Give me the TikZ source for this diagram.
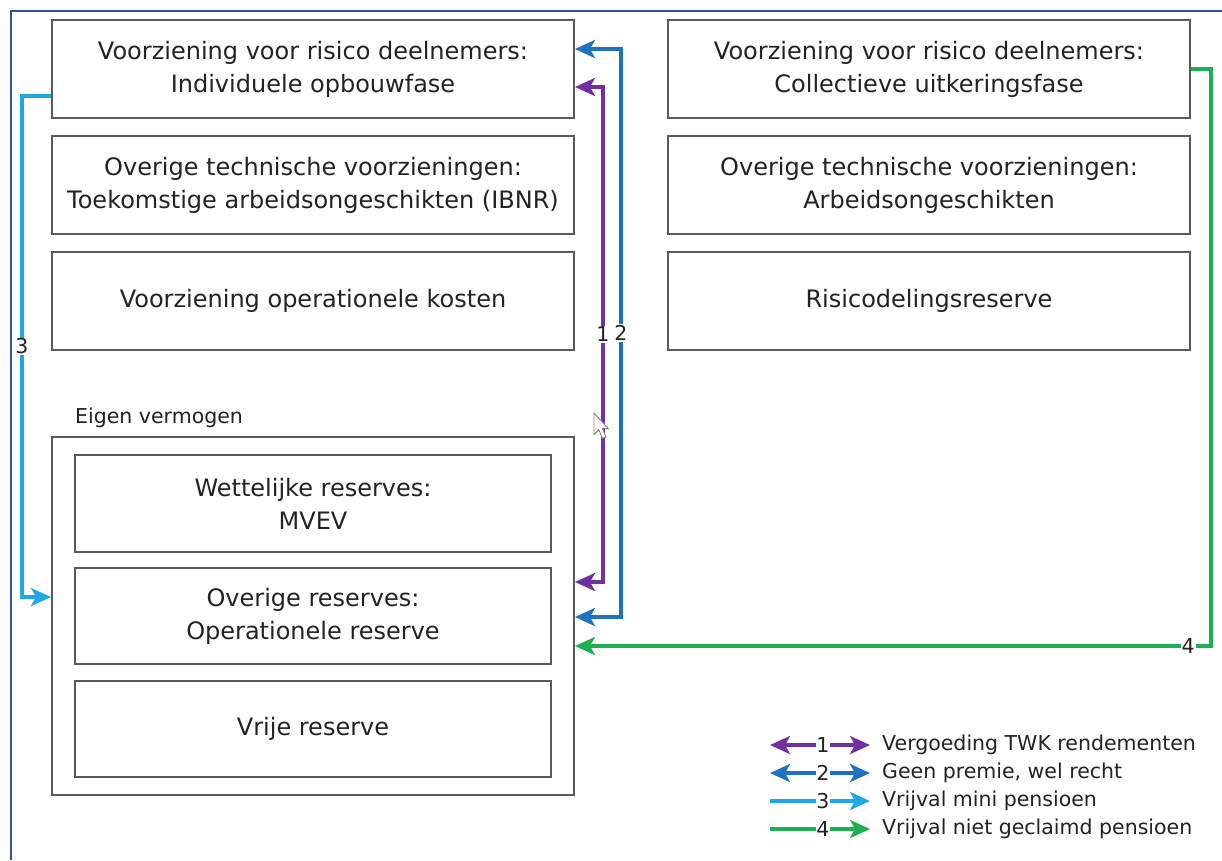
\documentclass[tikz,border=0pt]{standalone}
\usepackage{fontspec}
\setmainfont{DejaVu Sans}
\usetikzlibrary{arrows.meta}
\definecolor{frameblue}{HTML}{2F5597}
\definecolor{boxgray}{HTML}{5A5A5A}
\definecolor{txt}{HTML}{222222}
\definecolor{cpurple}{HTML}{7030A0}
\definecolor{cblue}{HTML}{1F72BE}
\definecolor{clight}{HTML}{1EA8E6}
\definecolor{cgreen}{HTML}{1DB050}
\tikzset{
  box/.style={draw=boxgray, line width=2pt, minimum width=522pt, minimum height=98pt,
    inner sep=0pt, align=center, text=txt, font=\fontsize{24}{33}\selectfont},
  inbox/.style={box, minimum width=476pt, minimum height=96pt},
  label/.style={text=txt, inner sep=0pt, font=\fontsize{20.5}{24}\selectfont},
  num/.style={fill=white, text=txt, inner sep=1pt, font=\fontsize{20.5}{24}\selectfont},
  conn/.style={line width=3.3pt, arrows={-Stealth[length=20pt,width=18pt,inset=5pt]}},
  both/.style={line width=3.3pt, arrows={Stealth[length=20pt,width=18pt,inset=5pt]-Stealth[length=20pt,width=18pt,inset=5pt]}},
  c1/.style={draw=cpurple},
  c2/.style={draw=cblue},
  c3/.style={draw=clight},
  c4/.style={draw=cgreen}
}
\begin{document}
\begin{tikzpicture}[x=1pt,y=-1pt]
\useasboundingbox (0,0) rectangle (1222,860);
% outer frame
\draw[frameblue, line width=2.2pt] (11,860) -- (11,11) -- (1222,11);

% provisions, left column
\node[box] (A) at (313,69) {Voorziening voor risico deelnemers:\\Individuele opbouwfase};
\node[box] (B) at (313,185) {Overige technische voorzieningen:\\Toekomstige arbeidsongeschikten (IBNR)};
\node[box] (C) at (313,301) {Voorziening operationele kosten};
% provisions, right column
\node[box] (D) at (929,69) {Voorziening voor risico deelnemers:\\Collectieve uitkeringsfase};
\node[box] (E) at (929,185) {Overige technische voorzieningen:\\Arbeidsongeschikten};
\node[box] (F) at (929,301) {Risicodelingsreserve};

% equity
\node[label, anchor=west] (EVL) at (75,418) {Eigen vermogen};
\node[box, minimum height=358pt] (EV) at (313,616) {};
\node[inbox, minimum height=97pt] (G) at (313,503.5) {Wettelijke reserves:\\MVEV};
\node[inbox] (H) at (313,616) {Overige reserves:\\Operationele reserve};
\node[inbox] (I) at (313,729) {Vrije reserve};

% flows
\draw[both, c1] ([yshift=-18pt]A.east) -- ++(28,0) |- ([yshift=34pt]EV.east)
  node[num, pos=0.25] {1};
\draw[both, c2] ([yshift=20pt]A.east) -- ++(46,0) |- ([yshift=-1pt]EV.east)
  node[num, pos=0.25] {2};
\draw[conn, c3] ([yshift=-27pt]A.west) -- ++(-29,0) |- ([yshift=19pt]EV.west)
  node[num, pos=0.25] {3};
\draw[conn, c4] (D.east) -- ++(20,0) |- ([yshift=-30pt]EV.east)
  node[num, pos=0.518] {4};

% mouse pointer
\draw[gray, fill=white, line width=0.9pt, shift={(594,413)}, scale=1.2]
  (0,0) -- (0,18) -- (4,14) -- (7,21) -- (10,20) -- (7,13) -- (12,13) -- cycle;

% legend
\foreach \k/\y/\t in {1/745/Vergoeding TWK rendementen, 2/773/{Geen premie, wel recht},
                      3/801/Vrijval mini pensioen, 4/829/Vrijval niet geclaimd pensioen}{
  \node[label, anchor=west] (t\k) at (882,\y) {\t};
  \coordinate (s\k) at (770,\y);
}
\draw[both, c1] (s1) -- ([xshift=-12pt]t1.west) node[num, pos=0.53, inner sep=0.5pt] {1};
\draw[both, c2] (s2) -- ([xshift=-12pt]t2.west) node[num, pos=0.53, inner sep=0.5pt] {2};
\draw[conn, c3] (s3) -- ([xshift=-12pt]t3.west) node[num, pos=0.53, inner sep=0.5pt] {3};
\draw[conn, c4] (s4) -- ([xshift=-12pt]t4.west) node[num, pos=0.53, inner sep=0.5pt] {4};
\end{tikzpicture}
\end{document}
